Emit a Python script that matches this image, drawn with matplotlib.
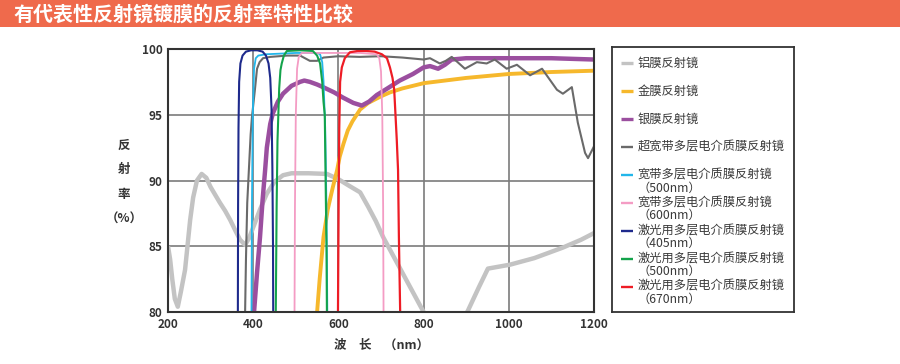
import matplotlib
matplotlib.use("Agg")
from matplotlib import pyplot as plt
from matplotlib.patches import Rectangle

plt.rcParams['font.family'] = ['Noto Sans CJK SC', 'DejaVu Sans']

# ---- data ------------------------------------------------------------------------
al_wl = [200, 205, 210, 216, 223, 230, 240, 252, 259, 268, 279, 290, 300, 311, 322, 334, 346,
         358, 369, 381, 390, 402, 416, 432, 450, 470, 490, 530, 573, 600, 625, 651, 670, 688,
         705, 725, 745, 765, 785, 800, 850, 904, 930, 951, 1003, 1060, 1127, 1170, 1200]
al_r = [85.0, 84.0, 82.5, 81.0, 80.4, 81.5, 83.2, 87.0, 88.7, 90.0, 90.5, 90.2, 89.5, 88.9,
        88.3, 87.7, 87.0, 86.2, 85.5, 85.1, 85.6, 86.6, 87.8, 89.0, 89.9, 90.4, 90.55, 90.55,
        90.5, 90.1, 89.6, 89.1, 88.0, 86.9, 85.7, 84.5, 83.3, 82.1, 80.9, 80.0, 76.8, 80.1,
        81.9, 83.3, 83.6, 84.1, 84.9, 85.5, 86.0]

au_wl = [550, 556, 565, 575, 587, 597, 603, 612, 622, 633, 643, 651, 670, 700, 721, 750, 800,
         850, 900, 1000, 1100, 1200]
au_r = [80.0, 82.5, 85.7, 87.8, 89.5, 90.8, 91.8, 92.8, 93.8, 94.5, 95.0, 95.4, 95.9, 96.4,
        96.7, 97.0, 97.4, 97.6, 97.8, 98.1, 98.25, 98.35]

ag_wl = [402, 409, 416, 422, 428, 432, 440, 446, 458, 470, 490, 510, 520, 533, 550, 564, 590,
         611, 635, 655, 672, 690, 715, 744, 775, 800, 815, 834, 850, 866, 900, 1000, 1100, 1200]
ag_r = [80.0, 83.0, 85.7, 88.5, 90.8, 92.5, 94.3, 95.1, 96.0, 96.6, 97.2, 97.5, 97.6, 97.5,
        97.3, 97.1, 96.7, 96.3, 95.9, 95.7, 96.0, 96.5, 97.0, 97.6, 98.1, 98.6, 98.7, 98.5,
        98.8, 99.2, 99.3, 99.3, 99.3, 99.2]

ubb_wl = [381, 383, 386, 390, 394, 397, 401, 404, 409, 415, 423, 440, 480, 510, 533, 550, 565,
          600, 650, 700, 750, 800, 815, 838, 852, 866, 897, 925, 948, 967, 995, 1019, 1050,
          1078, 1113, 1127, 1148, 1162, 1179, 1186, 1200]
ubb_r = [80.0, 84.0, 88.3, 90.9, 93.5, 94.8, 96.0, 96.9, 98.5, 99.0, 99.3, 99.4, 99.5, 99.5,
         99.1, 99.1, 99.35, 99.45, 99.4, 99.45, 99.35, 99.2, 99.3, 98.9, 99.1, 99.4, 98.5,
         99.0, 98.9, 99.2, 98.5, 98.8, 98.0, 98.5, 96.9, 96.6, 97.1, 94.4, 92.1, 91.7, 92.6]

bb500_wl = [396, 397, 399, 402, 406, 412, 430, 500, 550, 557, 562, 565, 569, 572, 574]
bb500_r = [80, 88, 95, 98.5, 99.3, 99.5, 99.6, 99.7, 99.7, 99.6, 99.0, 97.6, 94, 88, 80]

bb600_wl = [497, 498, 500, 503, 507, 514, 550, 650, 690, 696, 700, 703, 705, 706]
bb600_r = [80, 88, 95, 98.5, 99.4, 99.7, 99.7, 99.7, 99.6, 99.3, 98.3, 95, 88, 80]

l405_wl = [364, 364.5, 365.5, 367, 370, 375, 383, 395, 410, 422, 430, 436, 440, 443, 445,
           446.5, 447]
l405_r = [80, 88, 94, 97.5, 98.9, 99.5, 99.8, 99.9, 99.9, 99.8, 99.5, 98.9, 97.8, 95.5, 91,
          85, 80]

l500_wl = [453, 455, 457, 459, 461, 464, 467, 472, 479, 510, 540, 550, 557, 562, 565, 568,
           570, 572, 573]
l500_r = [80, 88, 93, 95, 97, 98.4, 98.9, 99.5, 99.85, 99.9, 99.85, 99.5, 98.9, 97.5, 96,
          95, 90, 85, 80]

l670_wl = [599, 600.5, 602, 604, 608, 615, 627, 645, 665, 685, 702, 714, 721, 727, 731, 737,
           740, 742, 745]
l670_r = [80, 88, 94, 97.5, 98.6, 99.3, 99.75, 99.85, 99.85, 99.8, 99.6, 99.3, 98.6, 97.8,
          96.9, 93.1, 90.8, 85.7, 80]

series = [
    (al_wl, al_r, '#c3c3c3', 3.2, '铝膜反射镜'),
    (au_wl, au_r, '#f6b82c', 2.8, '金膜反射镜'),
    (ag_wl, ag_r, '#9b4f9f', 3.2, '银膜反射镜'),
    (ubb_wl, ubb_r, '#6a6a6a', 1.5, '超宽带多层电介质膜反射镜'),
    (bb500_wl, bb500_r, '#22b6ea', 1.3, '宽带多层电介质膜反射镜\n（500nm）'),
    (bb600_wl, bb600_r, '#f49cc4', 1.3, '宽带多层电介质膜反射镜\n（600nm）'),
    (l405_wl, l405_r, '#1e2a8c', 1.5, '激光用多层电介质膜反射镜\n（405nm）'),
    (l500_wl, l500_r, '#14a34b', 1.5, '激光用多层电介质膜反射镜\n（500nm）'),
    (l670_wl, l670_r, '#ee1c25', 1.6, '激光用多层电介质膜反射镜\n（670nm）'),
]

x_ticks = [200, 400, 600, 800, 1000, 1200]
y_ticks = [80, 85, 90, 95, 100]

# ---- figure ----------------------------------------------------------------------
W, H = 900, 364
fig = plt.figure(figsize=(9, 3.64), dpi=100)

# title banner
fig.add_artist(Rectangle((0, 1 - 27 / H), 1, 27 / H, transform=fig.transFigure,
                         facecolor='#ef6a4c', edgecolor='none'))
fig.text(13 / W, 1 - 14 / H, '有代表性反射镜镀膜的反射率特性比较', color='white',
         fontsize=14.4, fontweight='bold', ha='left', va='center')

ax = fig.add_axes([168 / W, (H - 312) / H, 426 / W, 263 / H])
for wl, r, c, lw, lab in series:
    ax.plot(wl, r, color=c, linewidth=lw, solid_capstyle='butt', zorder=3)

ax.set_xlim(200, 1200)
ax.set_ylim(80, 100)
ax.set_xticks(x_ticks)
ax.set_yticks(y_ticks)
ax.grid(True, color='#7c7c7c', linewidth=1.2, zorder=1)
ax.tick_params(length=0, labelsize=8.5, colors='#333333', pad=4)
for lbl in ax.get_xticklabels() + ax.get_yticklabels():
    lbl.set_fontweight('bold')
for s in ax.spines.values():
    s.set_color('#333333')
    s.set_linewidth(1.5)
    s.set_zorder(4)

ax.set_xlabel('波　长　（nm）', fontsize=9, color='#333333', fontweight='bold', labelpad=6)
fig.text(124 / W, 1 - 182 / H, '反\n射\n率\n（%）', fontsize=9, color='#333333',
         fontweight='bold', ha='center', va='center', linespacing=2.15)

# legend panel
lx0, ly0, lx1, ly1 = 612, 47, 794, 312
lax = fig.add_axes([lx0 / W, (H - ly1) / H, (lx1 - lx0) / W, (ly1 - ly0) / H])
lax.set_xlim(lx0, lx1)
lax.set_ylim(ly1, ly0)
lax.set_xticks([])
lax.set_yticks([])
for s in lax.spines.values():
    s.set_color('#333333')
    s.set_linewidth(1.3)
for i, (wl, r, c, lw, lab) in enumerate(series):
    yy = 63.3 + 27.9 * i
    lax.plot([621, 633], [yy, yy], color=c, linewidth=2.4 if lw > 2 else 1.7,
             solid_capstyle='butt')
    lax.text(638, yy - 6.5, lab, fontsize=8.8, color='#3a3a3a', ha='left', va='top',
             linespacing=1.0, fontweight='medium')

fig.savefig('out.png', dpi=100)
